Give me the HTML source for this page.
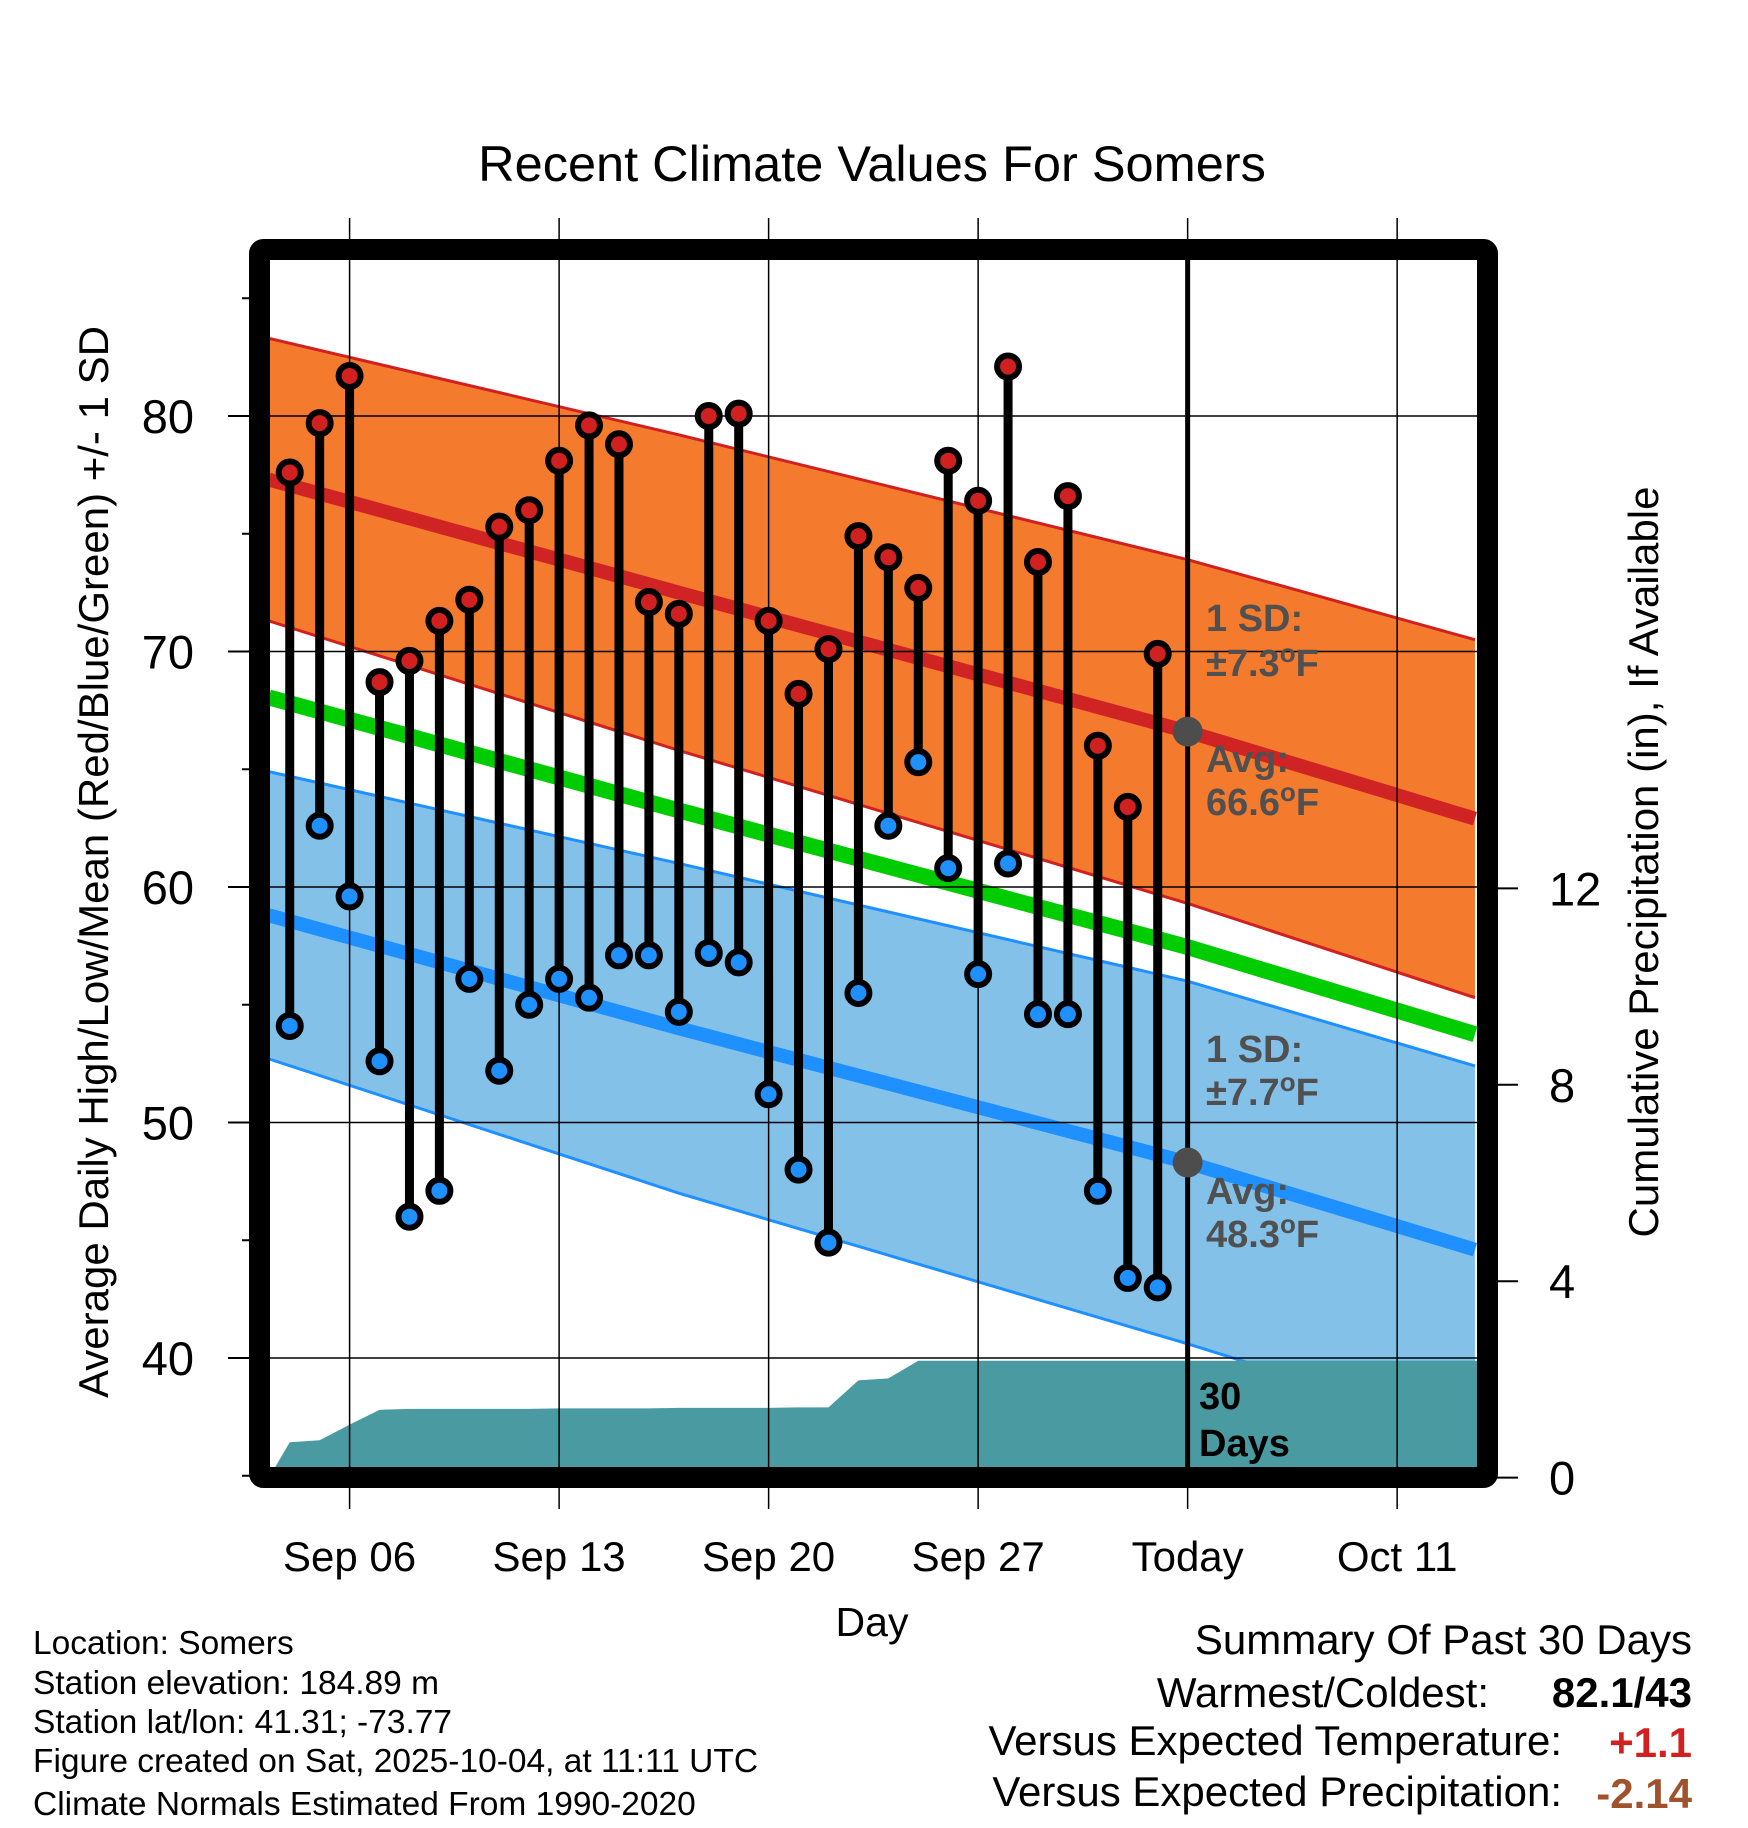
<!DOCTYPE html>
<html><head><meta charset="utf-8"><style>
html,body{margin:0;padding:0;background:#fff;}
svg{display:block;font-family:"Liberation Sans",Arial,sans-serif;}
</style></head><body>
<svg id="chart" width="1748" height="1828" viewBox="0 0 1748 1828" xmlns="http://www.w3.org/2000/svg">
<text x="872" y="181" font-size="50.5" text-anchor="middle">Recent Climate Values For Somers</text>
<defs><clipPath id="plotclip"><rect x="269" y="259" width="1209" height="1209"/></clipPath></defs>
<g id="plot" clip-path="url(#plotclip)"></g>
<g id="grid"></g>
<g id="marks"></g>
<g id="axes"></g>
<text transform="translate(108,862) rotate(-90)" font-size="42" text-anchor="middle">Average Daily High/Low/Mean (Red/Blue/Green) +/- 1 SD</text>
<text transform="translate(1658,862) rotate(-90)" font-size="42" text-anchor="middle">Cumulative Precipitation (in), If Available</text>
<text x="872" y="1636" font-size="41" text-anchor="middle">Day</text>
<g font-size="33.5">
<text x="33" y="1654">Location: Somers</text>
<text x="33" y="1694">Station elevation: 184.89 m</text>
<text x="33" y="1733">Station lat/lon: 41.31; -73.77</text>
<text x="33" y="1772">Figure created on Sat, 2025-10-04, at 11:11 UTC</text>
<text x="33" y="1815">Climate Normals Estimated From 1990-2020</text>
</g>
<g font-size="42">
<text x="1692" y="1654" text-anchor="end">Summary Of Past 30 Days</text>
<text x="1489" y="1707" text-anchor="end">Warmest/Coldest:</text>
<text x="1692" y="1707" text-anchor="end" font-weight="bold">82.1/43</text>
<text x="1562" y="1755" text-anchor="end">Versus Expected Temperature:</text>
<text x="1692" y="1757" text-anchor="end" font-weight="bold" fill="#d22020">+1.1</text>
<text x="1562" y="1806" text-anchor="end">Versus Expected Precipitation:</text>
<text x="1692" y="1808" text-anchor="end" font-weight="bold" fill="#a0522d">-2.14</text>
</g>
</svg>
<script>
// observed data: day offsets relative to Sep 06 (Sep 04 .. Oct 03)
const obsDays = [-2,-1,0,1,2,3,4,5,6,7,8,9,10,11,12,13,14,15,16,17,18,19,20,21,22,23,24,25,26,27];
const highs = [77.6,79.7,81.7,68.7,69.6,71.3,72.2,75.3,76.0,78.1,79.6,78.8,72.1,71.6,80.0,80.1,71.3,68.2,70.1,74.9,74.0,72.7,78.1,76.4,82.1,73.8,76.6,66.0,63.4,69.9];
const lows = [54.1,62.6,59.6,52.6,46.0,47.1,56.1,52.2,55.0,56.1,55.3,57.1,57.1,54.7,57.2,56.8,51.2,48.0,44.9,55.5,62.6,65.3,60.8,56.3,61.0,54.6,54.6,47.1,43.4,43.0];
const precip = [0.72,0.76,1.08,1.38,1.4,1.4,1.4,1.4,1.4,1.41,1.41,1.41,1.41,1.42,1.42,1.42,1.42,1.43,1.43,1.98,2.02,2.38,2.38,2.38,2.38,2.38,2.38,2.38,2.38,2.38];
// normals at anchor days
const normDays = [-2.7,11,28,37.6];
const normHigh = [77.3,72.5,66.6,62.9];
const normHighSD = [6.0,6.7,7.3,7.6];
const normLow = [58.8,54.0,48.3,44.6];
const normLowSD = [6.1,7.0,7.7,7.8];
const xTickDays = [0,7,14,21,28,35];
const xTickLabels = ['Sep 06','Sep 13','Sep 20','Sep 27','Today','Oct 11'];
const yTicks = [40,50,60,70,80];
const pTicks = [0,4,8,12];

const NS='http://www.w3.org/2000/svg';
const X=d=>349.6+d*29.93;
const Y=t=>416+(80-t)*23.55;
const P=p=>1477.6-p*49.1;
function mk(tag,attrs,parent){const e=document.createElementNS(NS,tag);for(const k in attrs)e.setAttribute(k,attrs[k]);parent.appendChild(e);return e;}
const plot=document.getElementById('plot'),grid=document.getElementById('grid'),marks=document.getElementById('marks'),axes=document.getElementById('axes');
const L=269,R=1478,T=259,B=1468;
function ptsOf(arr){return normDays.map((d,i)=>X(d)+','+Y(arr[i])).join(' ');}
const hiUp=normHigh.map((v,i)=>v+normHighSD[i]),hiDn=normHigh.map((v,i)=>v-normHighSD[i]);
const loUp=normLow.map((v,i)=>v+normLowSD[i]),loDn=normLow.map((v,i)=>v-normLowSD[i]);
const mean=normHigh.map((v,i)=>(v+normLow[i])/2);
function band(up,dn,fill,stroke,name){
  const pts=normDays.map((d,i)=>X(d)+','+Y(up[i])).concat(normDays.slice().reverse().map((d,j)=>{const i=normDays.length-1-j;return X(d)+','+Y(dn[i]);})).join(' ');
  const e=mk('polygon',{points:pts,fill:fill},plot);
  
  
  mk('polyline',{points:ptsOf(up),fill:'none',stroke:stroke,'stroke-width':3},plot);
  mk('polyline',{points:ptsOf(dn),fill:'none',stroke:stroke,'stroke-width':3},plot);
}
band(loUp,loDn,'#84c1e8','#1e90ff','low-sd-band');
band(hiUp,hiDn,'#f47a2e','#d02020','high-sd-band');
let l=mk('polyline',{points:ptsOf(normLow),fill:'none',stroke:'#1e90ff','stroke-width':14},plot);


l=mk('polyline',{points:ptsOf(normHigh),fill:'none',stroke:'#d02424','stroke-width':14},plot);


l=mk('polyline',{points:ptsOf(mean),fill:'none',stroke:'#00cc00','stroke-width':16},plot);


// precip area
let pp=[L+','+B,(L)+','+P(0)];
obsDays.forEach((d,i)=>pp.push(X(d)+','+P(precip[i])));
pp.push(R+','+P(precip[precip.length-1]));pp.push(R+','+B);
const pa=mk('polygon',{points:pp.join(' '),fill:'#4a9aa2'},plot);


// grid
yTicks.forEach(t=>{mk('line',{x1:L,x2:R,y1:Y(t),y2:Y(t),stroke:'#000','stroke-width':1.5},grid);});
xTickDays.forEach((d,i)=>{
  mk('line',{x1:X(d),x2:X(d),y1:218,y2:1509,stroke:'#000','stroke-width':1.5},grid);
});
// today line
const tl=mk('line',{x1:X(28),x2:X(28),y1:259,y2:1468,stroke:'#000','stroke-width':5},grid);


// stems and points
obsDays.forEach((d,i)=>{
  const s=mk('line',{x1:X(d),x2:X(d),y1:Y(highs[i]),y2:Y(lows[i]),stroke:'#000','stroke-width':9},marks);
  
  
});
obsDays.forEach((d,i)=>{
  const h=mk('circle',{cx:X(d),cy:Y(highs[i]),r:11,fill:'#d02020',stroke:'#000','stroke-width':6},marks);
  
  
  const lo=mk('circle',{cx:X(d),cy:Y(lows[i]),r:11,fill:'#1e90ff',stroke:'#000','stroke-width':6},marks);
  
  
});
// today normal dots
[normHigh[2],normLow[2]].forEach(v=>{
  const c=mk('circle',{cx:X(28),cy:Y(v),r:15,fill:'#4d4d4d'},marks);
  
  
});
function label(x,y,txt,fill,name,deg){
  const e=mk('text',{x:x,y:y,'font-size':38,'font-weight':'bold',fill:fill},marks);
  e.textContent=txt;
  if(deg){const t1=mk('tspan',{dy:-14,'font-size':26},e);t1.textContent='o';const t2=mk('tspan',{dy:14},e);t2.textContent='F';}
  
  
}
label(1206,631,'1 SD:','#505050','high-sd-label');
label(1206,676,'\u00B1'+normHighSD[2].toFixed(1),'#505050','high-sd-value',true);
label(1206,772,'Avg:','#505050','high-avg-label');
label(1206,815,normHigh[2].toFixed(1),'#505050','high-avg-value',true);
label(1206,1062,'1 SD:','#505050','low-sd-label');
label(1206,1105,'\u00B1'+normLowSD[2].toFixed(1),'#505050','low-sd-value',true);
label(1206,1204,'Avg:','#505050','low-avg-label');
label(1206,1247,normLow[2].toFixed(1),'#505050','low-avg-value',true);
label(1199,1409,'30','#000','thirty-days-label');
label(1199,1456,'Days','#000','thirty-days-label2');
// frame
const fr=mk('rect',{x:259.5,y:249.5,width:1228,height:1228,fill:'none',stroke:'#000','stroke-width':21,rx:4},axes);


// left ticks
for(let t=35;t<=85;t+=5){
  const major=yTicks.includes(t);
  mk('line',{x1:major?228:242,x2:250,y1:Y(t),y2:Y(t),stroke:'#000','stroke-width':2},axes);
}
yTicks.forEach(t=>{const e=mk('text',{x:194,y:Y(t)+17,'font-size':47,'text-anchor':'end'},axes);e.textContent=t;});
pTicks.forEach(p=>{
  mk('line',{x1:1497,x2:1518,y1:P(p),y2:P(p),stroke:'#000','stroke-width':2},axes);
  const e=mk('text',{x:1518+31,y:P(p)+17,'font-size':47},axes);e.textContent=p;
  
  
});
xTickDays.forEach((d,i)=>{
  const e=mk('text',{x:X(d),y:1571,'font-size':42,'text-anchor':'middle'},axes);e.textContent=xTickLabels[i];
  
  
});
</script>
</body></html>
